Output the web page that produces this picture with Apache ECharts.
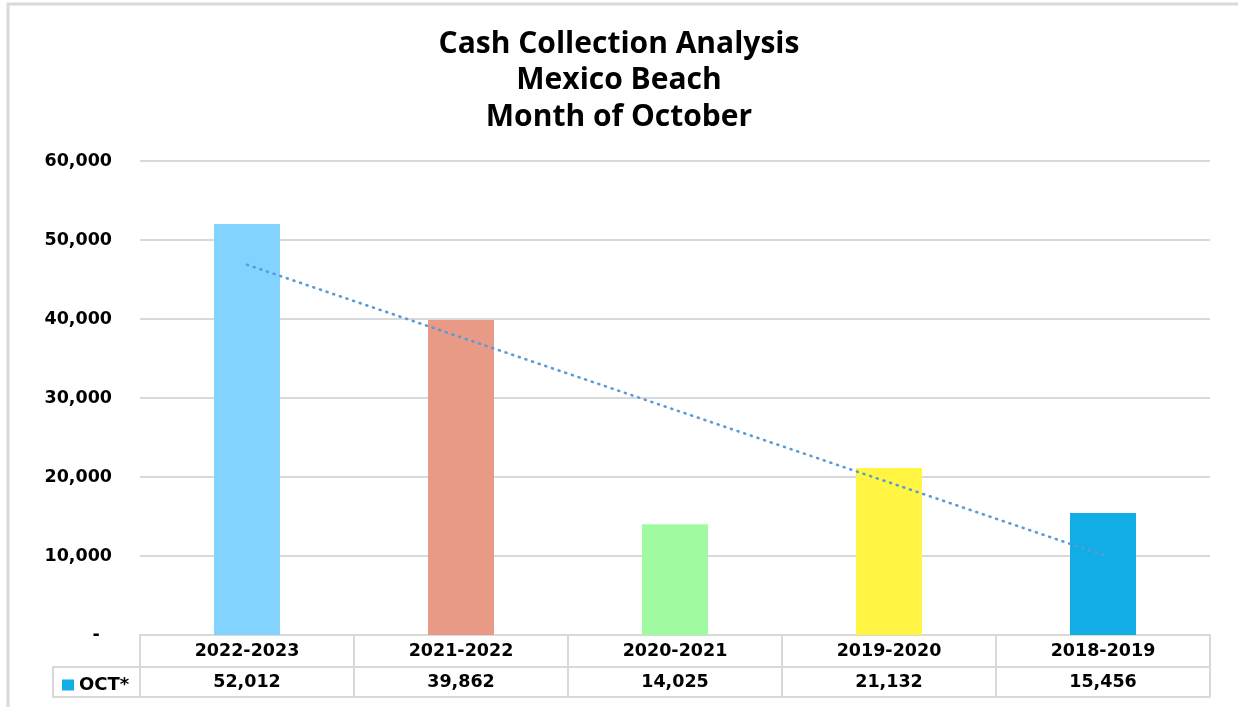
<!DOCTYPE html>
<html>
<head>
<meta charset="utf-8">
<script src="https://cdn.jsdelivr.net/npm/echarts@6/dist/echarts.min.js"></script>
<style>
  html, body { margin: 0; padding: 0; background: #fff; }
  #main { width: 1238px; height: 707px; }
</style>
</head>
<body>
<div id="main"></div>
<script>
// data
var seasons = ['2022-2023', '2021-2022', '2020-2021', '2019-2020', '2018-2019'];
var octValues = [52012, 39862, 14025, 21132, 15456];
var barColors = ['#82D3FF', '#E89A86', '#A0FBA0', '#FFF542', '#12ACE6'];
var seriesName = 'OCT*';

// linear trendline (least squares, like Excel does)
function linearTrend(vals) {
    var n = vals.length, sx = 0, sy = 0, sxy = 0, sxx = 0;
    for (var i = 0; i < n; i++) {
        var x = i + 1;
        sx += x; sy += vals[i]; sxy += x * vals[i]; sxx += x * x;
    }
    var b = (n * sxy - sx * sy) / (n * sxx - sx * sx);
    var a = (sy - b * sx) / n;
    return vals.map(function (v, i) { return a + b * (i + 1); });
}

function fmt(v) {
    return v.toLocaleString('en-US');
}

var labelFont = 'DejaVu Sans';
var gridColor = '#D9D9D9';

var chart = echarts.init(document.getElementById('main'));

var option = {
    backgroundColor: '#fff',
    animation: false,
    title: {
        text: 'Cash Collection Analysis\nMexico Beach\nMonth of October',
        left: 'center',
        top: 21,
        textStyle: {
            fontFamily: 'Open Sans',
            fontWeight: 'bold',
            fontSize: 30,
            lineHeight: 36.5,
            color: '#000'
        }
    },
    legend: {
        left: 57,
        top: 671,
        data: [seriesName],
        icon: 'rect',
        itemWidth: 12,
        itemHeight: 11,
        itemGap: 4,
        selectedMode: false,
        textStyle: {
            fontFamily: labelFont,
            fontWeight: 'bold',
            fontSize: 18,
            color: '#000'
        }
    },
    grid: {
        left: 140,
        right: 28,
        top: 161,
        bottom: 72,
        containLabel: false
    },
    xAxis: [{
        type: 'category',
        data: seasons,
        position: 'bottom',
        axisLine: { show: true, lineStyle: { color: gridColor, width: 2 } },
        axisTick: { show: true, length: 62, interval: 0, lineStyle: { color: gridColor, width: 2 } },
        axisLabel: {
            interval: 0,
            margin: 6,
            lineHeight: 20,
            fontFamily: labelFont,
            fontWeight: 'bold',
            fontSize: 17.5,
            color: '#000'
        }
    }, {
        type: 'category',
        data: octValues.map(fmt),
        position: 'bottom',
        offset: 32,
        axisLine: { show: true, lineStyle: { color: gridColor, width: 2 } },
        axisTick: { show: false },
        axisLabel: {
            interval: 0,
            margin: 5,
            lineHeight: 20,
            fontFamily: labelFont,
            fontWeight: 'bold',
            fontSize: 17.5,
            color: '#000'
        }
    }, {
        type: 'category',
        data: seasons,
        position: 'bottom',
        offset: 62,
        axisLine: { show: true, lineStyle: { color: gridColor, width: 2 } },
        axisTick: { show: false },
        axisLabel: { show: false }
    }],
    yAxis: {
        type: 'value',
        min: 0,
        max: 60000,
        interval: 10000,
        axisLine: { show: false },
        axisTick: { show: false },
        splitLine: { lineStyle: { color: gridColor, width: 2 } },
        axisLabel: {
            margin: 28,
            fontFamily: labelFont,
            fontWeight: 'bold',
            fontSize: 17.5,
            color: '#000',
            formatter: function (v) { return v === 0 ? '-  ' : fmt(v); }
        }
    },
    graphic: [{
        type: 'polyline',
        shape: { points: [[8, 707], [8, 4], [1238, 4]] },
        style: { fill: null, stroke: gridColor, lineWidth: 3 },
        silent: true
    }, {
        type: 'rect',
        shape: { x: 53, y: 667, width: 87, height: 30 },
        style: { fill: null, stroke: gridColor, lineWidth: 2 },
        silent: true,
        z: -1
    }],
    series: [{
        name: seriesName,
        type: 'bar',
        xAxisIndex: 0,
        barWidth: 66,
        itemStyle: { color: '#12ACE6' },
        data: octValues.map(function (v, i) {
            return { value: v, itemStyle: { color: barColors[i] } };
        }),
        z: 2
    }, {
        name: 'trend',
        type: 'line',
        xAxisIndex: 0,
        data: linearTrend(octValues),
        symbol: 'none',
        silent: true,
        lineStyle: { color: '#5B9BD5', width: 2.6, type: [1, 6], cap: 'round' },
        z: 3
    }]
};

chart.setOption(option);
</script>
</body>
</html>
